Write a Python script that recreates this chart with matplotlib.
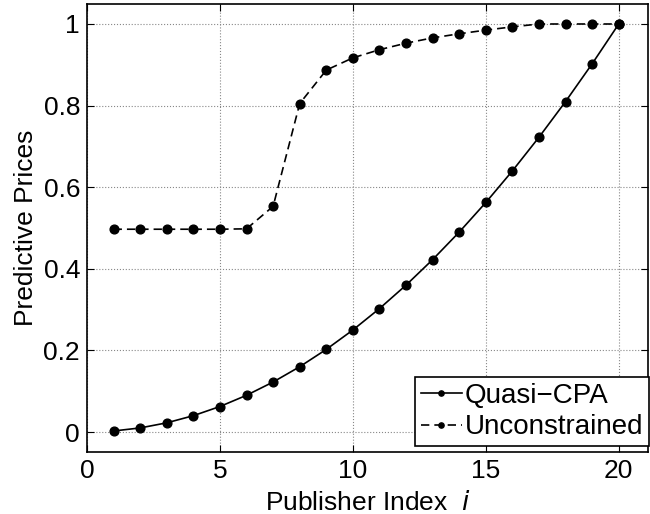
import matplotlib
matplotlib.use("Agg")
import matplotlib.pyplot as plt

plt.rcParams['font.family'] = ['Liberation Sans', 'DejaVu Sans']

publisher = list(range(1, 21))
quasi_cpa = [0.0025, 0.01, 0.0225, 0.04, 0.0625, 0.09, 0.1225, 0.16, 0.2025, 0.25,
             0.3025, 0.36, 0.4225, 0.49, 0.5625, 0.64, 0.7225, 0.81, 0.9025, 1.0]
unconstrained = [0.497, 0.497, 0.497, 0.497, 0.497, 0.498, 0.553, 0.805, 0.887, 0.917,
                 0.937, 0.953, 0.966, 0.976, 0.985, 0.993, 1.0, 1.0, 1.0, 1.0]

W, H = 650, 514
fig = plt.figure(figsize=(6.5, 5.14), dpi=100)
# axes box in pixels: left 87, right 648, top 4, bottom 452
ax = fig.add_axes([87/W, 1 - 452/H, (648 - 87)/W, (452 - 4)/H])

ax.plot(publisher, quasi_cpa, '-', color='k', marker='o', markersize=6.3, lw=1.2, label='Quasi\u2212CPA')
ax.plot(publisher, unconstrained, '--', color='k', marker='o', markersize=6.3, lw=1.2,
        dashes=(5, 3), label='Unconstrained')

ax.set_xlim(0, 21.1)
ax.set_ylim(-0.049, 1.049)
ax.set_xticks([0, 5, 10, 15, 20])
ax.set_yticks([0, 0.2, 0.4, 0.6, 0.8, 1])
ax.set_yticklabels(['0', '0.2', '0.4', '0.6', '0.8', '1'])
ax.grid(True, linestyle=':', color='#888888', lw=0.8)
ax.tick_params(direction='in', labelsize=19, top=True, right=True, length=5, pad=5)
for s in ax.spines.values():
    s.set_linewidth(1.2)

ax.set_xlabel('Publisher Index  $\\it{i}$', fontsize=19, va='baseline')
ax.xaxis.set_label_coords(0.5, (452 - 510) / 448)
ax.set_ylabel('Predictive Prices', fontsize=19)
ax.yaxis.set_label_coords((38 - 87) / 561, 0.5)

leg = ax.legend(loc='lower right', fontsize=20, fancybox=False, edgecolor='k',
                handlelength=1.5, handletextpad=0.1, borderpad=0.2, labelspacing=0.2,
                markerscale=0.6, framealpha=1,
                bbox_to_anchor=(649/W, 1 - 446/H), bbox_transform=fig.transFigure,
                borderaxespad=0)
leg.get_frame().set_linewidth(1.2)

fig.savefig('out.png', dpi=100)
